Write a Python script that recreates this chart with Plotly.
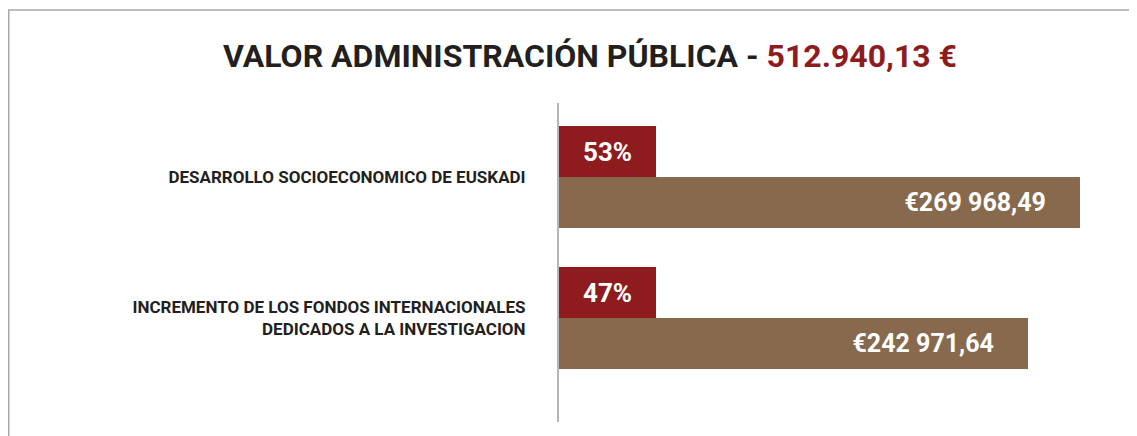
import plotly.graph_objects as go

categories = ["DESARROLLO SOCIOECONOMICO DE EUSKADI",
              "INCREMENTO DE LOS FONDOS INTERNACIONALES<br>DEDICADOS A LA INVESTIGACION"]
values = [269968.49, 242971.64]
value_labels = ["€269 968,49", "€242 971,64"]
percent_labels = ["53%", "47%"]
title_main = "VALOR ADMINISTRACIÓN PÚBLICA - "
title_total = "512.940,13 €"

RED = "#8e1b1e"
BROWN = "#876a4d"
DARK = "#231f20"
FONT = "Roboto"
PAD = "\u00a0" * 5

W, H = 1137, 436
ML, MR, MT, MB = 551, 45, 95, 22

fig = go.Figure()
fig.add_trace(go.Bar(
    y=categories, x=values, orientation="h",
    marker=dict(color=BROWN, line=dict(width=0)),
    width=0.363, offset=0,
    text=[t + PAD for t in value_labels],
    textposition="inside", insidetextanchor="end", constraintext="none",
    textfont=dict(family=FONT, size=25, color="white", weight="bold"),
    hoverinfo="skip", showlegend=False,
))

for cat, pl in zip(categories, percent_labels):
    fig.add_annotation(
        x=0, y=cat, xref="x", yref="y", xanchor="left", yanchor="bottom",
        text="<b>" + pl + "</b>", showarrow=False,
        width=97, height=51, bgcolor=RED, borderpad=0, borderwidth=0,
        font=dict(family=FONT, size=26, color="white"), align="center", valign="middle",
    )

pw = W - ML - MR
ph = H - MT - MB
fig.add_shape(type="rect", xref="paper", yref="paper",
              x0=(0.75 - ML) / pw, x1=1.2, y0=-0.2, y1=(H - MB - 2) / ph,
              line=dict(color="#a9a9a9", width=1.5), layer="below")

fig.update_layout(
    width=W, height=H,
    margin=dict(l=ML, r=MR, t=MT, b=MB),
    paper_bgcolor="white", plot_bgcolor="white",
    title=dict(
        text="<b>" + title_main + "<span style='color:" + RED + "'>" + title_total + "</span></b>",
        x=582 / W, xanchor="center", xref="container",
        y=1 - 48 / H, yanchor="middle", yref="container",
        font=dict(family=FONT, size=32, color=DARK),
    ),
    xaxis=dict(range=[0, 280500], visible=False, fixedrange=True),
    yaxis=dict(
        type="category", range=[1.74, -0.53],
        showline=True, linecolor="#b5b5b5", linewidth=2,
        showgrid=False, zeroline=False, ticks="",
        ticklabelstandoff=28,
        tickfont=dict(family=FONT, size=17, color=DARK, weight="bold"),
    ),
    bargap=0,
)

fig.write_html("out.html")
